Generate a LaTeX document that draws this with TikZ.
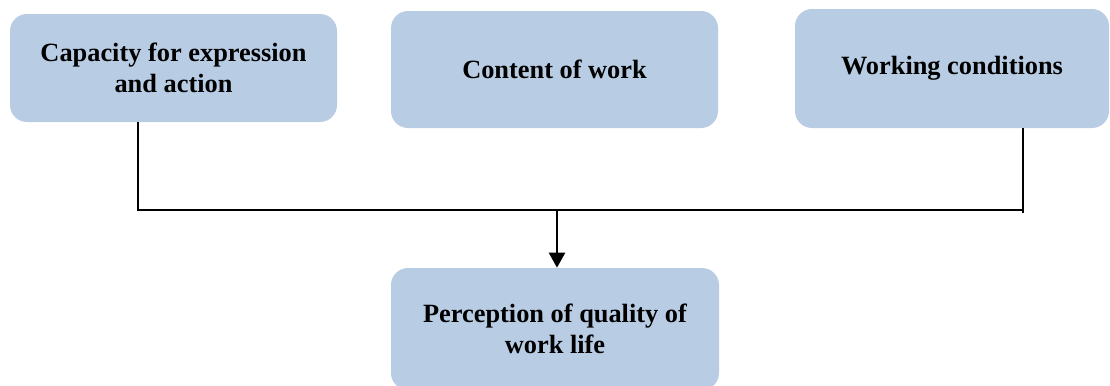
\documentclass[tikz,border=0pt]{standalone}
\usepackage{fontspec}
\setmainfont{Liberation Serif}
\usetikzlibrary{positioning,arrows.meta}

\definecolor{boxblue}{HTML}{B8CCE4}

\begin{document}
\begin{tikzpicture}[
    factor/.style={rounded corners=0.34cm, fill=boxblue, inner sep=0pt, align=center,
        font=\fontsize{15}{17.6}\selectfont\bfseries},
    link/.style={draw=black, line width=0.85pt},
    >={Triangle[length=0.3cm, width=0.32cm]}
]
\useasboundingbox (0,0) rectangle (22.2,-7.7);

% Top row (three factors)
\node[factor, minimum width=6.54cm, minimum height=2.16cm] (capacity) at (3.47,-1.36) {Capacity for expression\\and action};
\node[factor, minimum width=6.54cm, minimum height=2.34cm] (content) at (11.09,-1.39) {Content of work};
\node[factor, minimum width=6.28cm, minimum height=2.38cm] (conditions) at (19.04,-1.37) {Working conditions};

% Outcome box
\node[factor, minimum width=6.56cm, minimum height=2.44cm] (perception) at (11.10,-6.58) {Perception of quality of\\work life};

% Collector line
\coordinate (busL) at (2.76,-4.2);
\coordinate (busR) at (20.46,-4.2);
\coordinate (join) at (11.14,-4.2);

\draw[link] (capacity.south -| busL) -- (busL) -- (busR);
\draw[link] (conditions.south -| busR) -- ([yshift=-0.05cm]busR);

% Arrow down to the outcome
\draw[link, line width=1.4pt, ->] (join) -- (join |- perception.north);

\end{tikzpicture}
\end{document}
